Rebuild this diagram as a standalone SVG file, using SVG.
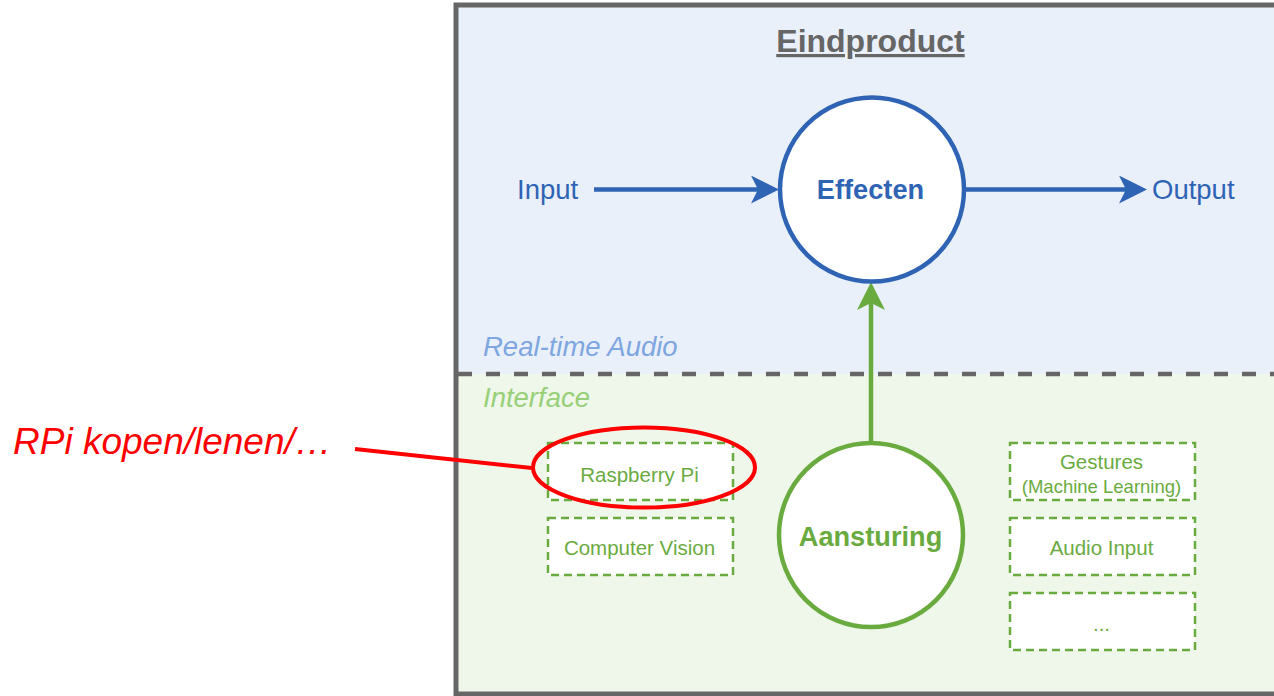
<svg xmlns="http://www.w3.org/2000/svg" width="1274" height="696" viewBox="0 0 1274 696">
<style>
text{font-family:"Liberation Sans",Arial,sans-serif}
.blue{fill:#2f64b5}
.green{fill:#6aab3f}
.box{fill:#ffffff;stroke:#6aab3f;stroke-width:2.5;stroke-dasharray:8 5}
.small{font-size:20.5px;text-anchor:middle}
.big{font-size:27.2px;font-weight:bold;text-anchor:middle}
.lbl{font-size:27.5px}
</style>
<defs>
<marker id="arrBlue" markerUnits="userSpaceOnUse" viewBox="0 0 28 28" refX="14" refY="14" markerWidth="28" markerHeight="28" orient="auto">
<path d="M0,0 L28,14 L0,28 L7,14 Z" fill="#2f64b5"/>
</marker>
<marker id="arrGreen" markerUnits="userSpaceOnUse" viewBox="0 0 28 28" refX="14" refY="14" markerWidth="28" markerHeight="28" orient="auto">
<path d="M0,0 L28,14 L0,28 L7,14 Z" fill="#6aab3f"/>
</marker>
</defs>
<rect width="1274" height="696" fill="#ffffff"/>
<g id="container">
<rect x="456" y="5" width="830" height="369" fill="#e9f0fa"/>
<rect x="456" y="374" width="830" height="320" fill="#eff7ea"/>
<rect x="456" y="5" width="830" height="689" fill="none" stroke="#666666" stroke-width="5"/>
<line x1="458" y1="374" x2="1274" y2="374" stroke="#666666" stroke-width="4.5" stroke-dasharray="14 14"/>
<text x="870.5" y="52" font-size="32" font-weight="bold" fill="#666666" text-anchor="middle" text-decoration="underline">Eindproduct</text>
<text x="483" y="356" class="lbl" font-style="italic" fill="#7ea6e0">Real-time Audio</text>
<text x="483" y="407" class="lbl" font-style="italic" fill="#97d077">Interface</text>
</g>
<g id="connectors">
<line x1="594" y1="189.5" x2="765" y2="189.5" stroke="#2f64b5" stroke-width="4.5" marker-end="url(#arrBlue)"/>
<line x1="965" y1="189.5" x2="1133" y2="189.5" stroke="#2f64b5" stroke-width="4.5" marker-end="url(#arrBlue)"/>
<line x1="871" y1="442" x2="871" y2="296" stroke="#6aab3f" stroke-width="4.5" marker-end="url(#arrGreen)"/>
<line x1="355" y1="449" x2="532" y2="468" stroke="#ff0000" stroke-width="4"/>
</g>
<g id="input">
<text x="517" y="199" class="lbl blue">Input</text>
</g>
<g id="output">
<text x="1152" y="199" class="lbl blue">Output</text>
</g>
<g id="effecten">
<circle cx="872" cy="189.5" r="92" fill="#ffffff" stroke="#2f64b5" stroke-width="4.5"/>
<text x="870.5" y="199" class="big blue">Effecten</text>
</g>
<g id="aansturing">
<circle cx="871" cy="535" r="92" fill="#ffffff" stroke="#6aab3f" stroke-width="4.5"/>
<text x="870.5" y="546" class="big green">Aansturing</text>
</g>
<g id="raspberry-pi">
<rect x="548" y="443" width="185" height="57" class="box"/>
<text x="639.5" y="482" class="small green">Raspberry Pi</text>
</g>
<g id="computer-vision">
<rect x="548" y="518" width="185" height="57" class="box"/>
<text x="639.5" y="555" class="small green">Computer Vision</text>
</g>
<g id="gestures">
<rect x="1010" y="443" width="185" height="57" class="box"/>
<text x="1101.5" y="469" class="small green">Gestures</text>
<text x="1101.5" y="493" font-size="18.5" text-anchor="middle" class="green">(Machine Learning)</text>
</g>
<g id="audio-input">
<rect x="1010" y="518" width="185" height="57" class="box"/>
<text x="1101.5" y="555" class="small green">Audio Input</text>
</g>
<g id="more">
<rect x="1010" y="593" width="185" height="57" class="box"/>
<text x="1101.5" y="631" class="small green">...</text>
</g>
<g id="annotation">
<ellipse cx="644" cy="467.5" rx="111" ry="40" fill="none" stroke="#ff0000" stroke-width="4"/>
<text x="13" y="454" font-size="37" font-style="italic" fill="#ff0000">RPi kopen/lenen/…</text>
</g>
</svg>
